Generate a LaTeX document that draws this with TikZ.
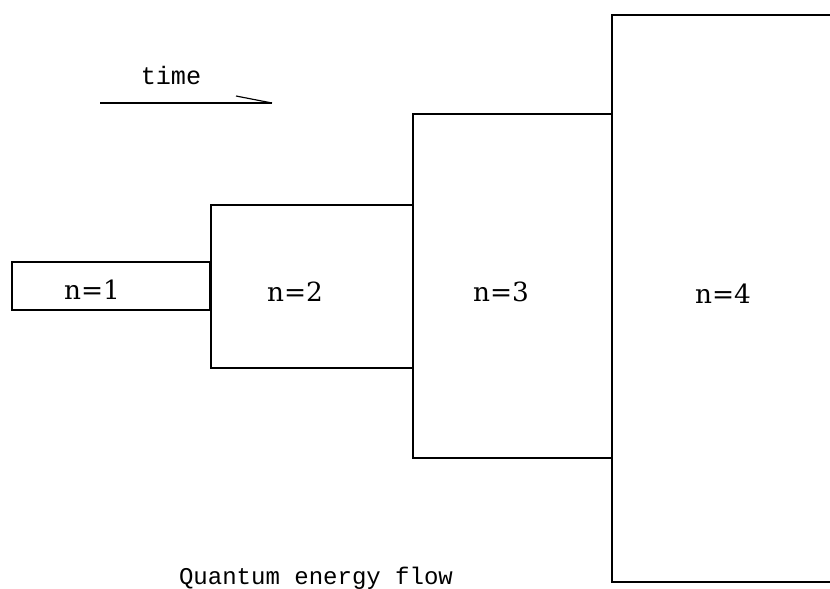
\documentclass[tikz,border=0pt]{standalone}
\usepackage{fontspec}
\setmainfont{DejaVu Serif}
\newfontfamily\monofont{Liberation Mono}

\begin{document}
\begin{tikzpicture}[x=0.03cm,y=-0.03cm,line width=1.3pt]
\useasboundingbox (0,0) rectangle (830,589);
% the four levels
\draw (12,262) rectangle (211,310);
\draw (211,205) rectangle (413,368);
\draw (413,114) rectangle (612,458);
\draw (830,15) -- (612,15) -- (612,582) -- (830,582);
\draw[line width=2.2pt] (210,262) -- (210,310);
\path (92,290) node (n1) {\fontsize{22.5}{26}\selectfont n=1};
\path (295,292) node (n2) {\fontsize{22.5}{26}\selectfont n=2};
\path (501,292) node (n3) {\fontsize{22.5}{26}\selectfont n=3};
\path (723,294) node (n4) {\fontsize{22.5}{26}\selectfont n=4};
% time arrow
\coordinate (t0) at (100,103);
\coordinate (t1) at (272,103);
\coordinate (tb) at (236,96);
\draw[line width=1.2pt] (t0) -- (t1);
\draw[line width=1pt] (tb) -- (t1);
\path (171,75) node (time) {\monofont\fontsize{21.5}{25}\selectfont time};
\path (316,578) node (title) {\monofont\fontsize{20.5}{24}\selectfont Quantum energy flow};
\end{tikzpicture}
\end{document}
